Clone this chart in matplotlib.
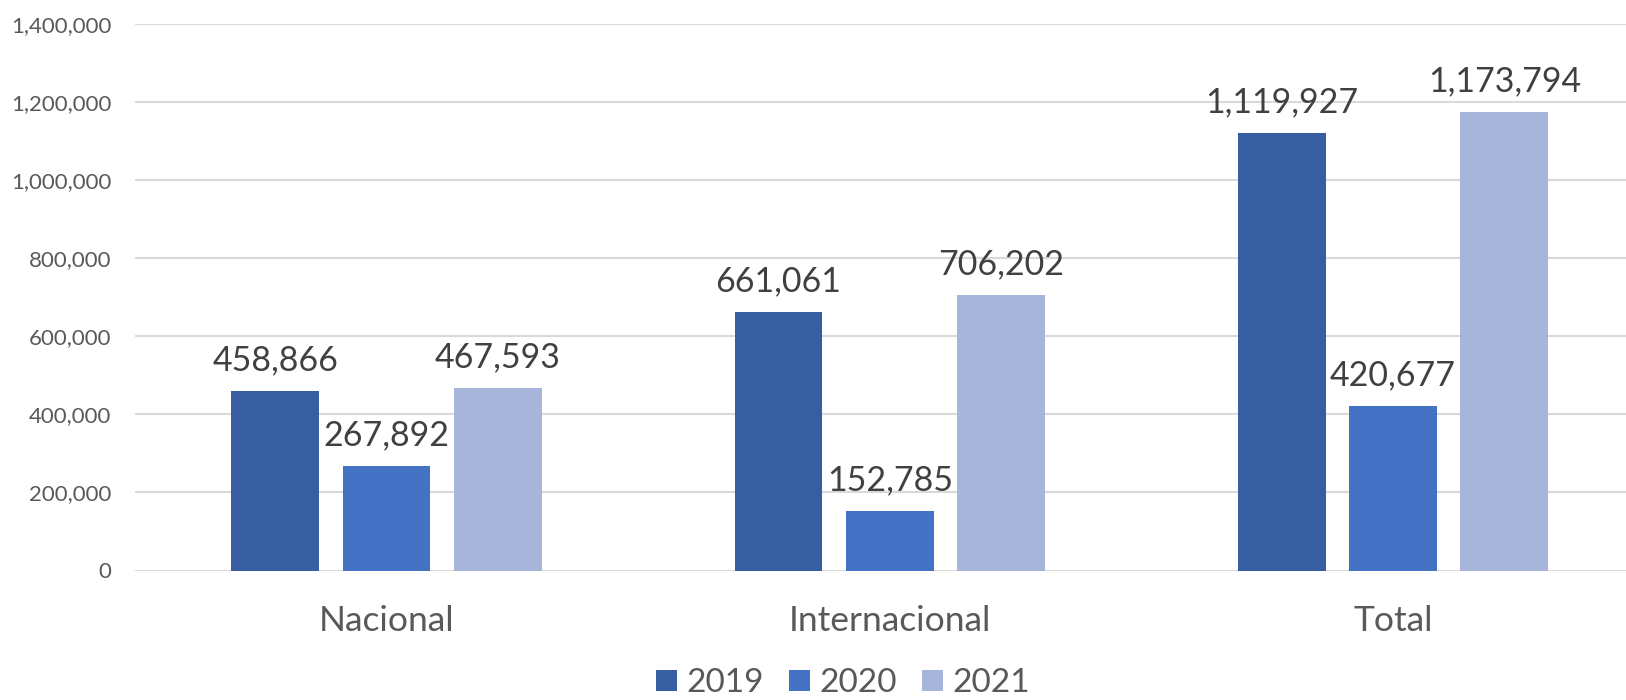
import matplotlib
matplotlib.use("Agg")
import matplotlib.pyplot as plt
from matplotlib.patches import Patch
import numpy as np

categories = ["Nacional", "Internacional", "Total"]
series_names = ["2019", "2020", "2021"]
values_2019 = [458866, 661061, 1119927]
values_2020 = [267892, 152785, 420677]
values_2021 = [467593, 706202, 1173794]
yticks = [0, 200000, 400000, 600000, 800000, 1000000, 1200000, 1400000]

colors = ["#365EA0", "#4472C4", "#A8B5DA"]

plt.rcParams['font.family'] = ['Lato', 'DejaVu Sans']

W, H = 1626, 700
fig = plt.figure(figsize=(W / 100, H / 100), dpi=100)
left, right = 135 / W, 1626 / W
bottom, top = 1 - 570.5 / H, 1 - 24 / H
ax = fig.add_axes([left, bottom, right - left, top - bottom])

x = np.arange(len(categories))
pitch = 0.2213
bw = 0.1744
all_series = [values_2019, values_2020, values_2021]
for i, (vals, c, name) in enumerate(zip(all_series, colors, series_names)):
    xs = x + (i - 1) * pitch
    ax.bar(xs, vals, width=bw, color=c, label=name, zorder=3)
    for xi, v in zip(xs, vals):
        ax.annotate(f"{v:,}", (xi, v), xytext=(0, 15), textcoords="offset points",
                    ha="center", va="baseline", fontsize=24.5, color="#404040")

ax.set_xlim(-0.5, 2.463)
ax.set_ylim(0, 1400000)
ax.set_yticks(yticks)
ax.set_yticklabels([f"{t:,}" for t in yticks])
ax.yaxis.grid(True, color="#D9D9D9", linewidth=1.5, zorder=0)
ax.set_axisbelow(True)
for s in ax.spines.values():
    s.set_visible(False)
ax.tick_params(axis="y", length=0, pad=17, labelsize=16, labelcolor="#595959")
ax.tick_params(axis="x", length=0, pad=25, labelsize=25.5, labelcolor="#595959")
ax.set_xticks(x)
ax.set_xticklabels(categories)

handles = [Patch(facecolor=c, label=n) for c, n in zip(colors, series_names)]
leg = fig.legend(handles=handles, loc="lower center", bbox_to_anchor=(843 / W, -0.026),
                 ncol=3, frameon=False, fontsize=24, handlelength=0.63, handleheight=0.63,
                 handletextpad=0.29, columnspacing=0.75, borderpad=0.1, labelcolor="#595959")

fig.savefig("out.png", dpi=100)
